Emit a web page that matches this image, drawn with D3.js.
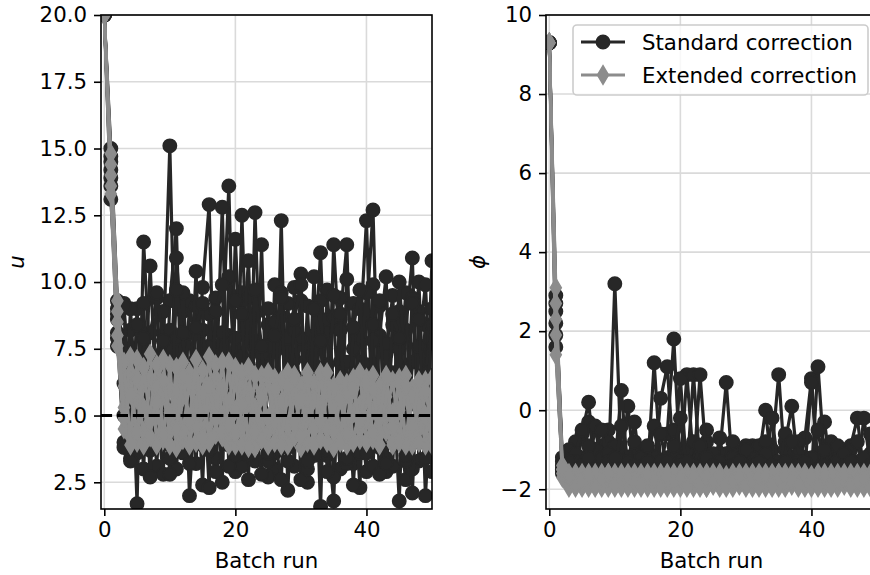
<!DOCTYPE html>
<html>
<head>
<meta charset="utf-8">
<script src="https://cdn.jsdelivr.net/npm/d3@7"></script>
<style>
  body { margin: 0; background: #fff; }
  text { font-family: "DejaVu Sans", sans-serif; }
</style>
</head>
<body>
<div id="chart"></div>
<script>
// ---- data (one row per run, index = batch run 0..50) ----
const uStandard = [
  [20, 15.0, 9.3, 4.0, 8.2, 1.7, 11.5, 6.8, 3.1, 7.4,
   15.1, 4.6, 8.9, 2.0, 6.3, 9.8, 12.9, 3.4, 7.7, 13.6,
   4.1, 9.6, 2.6, 12.6, 5.2, 8.4, 3.0, 12.3, 2.2, 7.1,
   9.3, 3.6, 6.9, 11.1, 4.4, 1.8, 8.6, 11.4, 3.2, 7.9,
   12.3, 4.8, 9.1, 2.9, 6.6, 1.8, 8.2, 10.9, 3.3, 7.6,
   5.4],
  [20, 14.2, 8.1, 6.2, 3.4, 9.0, 4.3, 10.6, 5.1, 2.8,
   9.3, 12.0, 3.6, 9.3, 7.1, 2.4, 8.8, 5.6, 12.8, 3.9,
   11.6, 6.0, 8.3, 3.3, 11.4, 2.7, 9.9, 5.5, 7.4, 3.1,
   10.3, 2.5, 8.0, 1.6, 9.7, 5.9, 3.0, 10.1, 6.4, 2.3,
   8.7, 12.7, 3.8, 7.3, 9.5, 4.5, 2.6, 7.0, 10.0, 4.0,
   10.8],
  [20, 13.6, 7.6, 9.2, 5.3, 7.0, 3.0, 8.1, 9.4, 4.2,
   6.1, 10.9, 7.6, 4.1, 9.1, 6.8, 2.3, 9.4, 4.6, 8.0,
   2.9, 12.5, 4.7, 7.8, 5.9, 9.0, 3.6, 8.7, 4.2, 9.8,
   2.6, 7.7, 4.9, 8.4, 3.5, 11.4, 7.0, 4.2, 9.2, 5.1,
   2.9, 9.9, 6.0, 3.4, 8.4, 6.2, 9.6, 3.0, 8.9, 2.0,
   6.3],
  [20, 13.1, 8.8, 5.0, 6.7, 3.6, 8.0, 2.7, 7.2, 8.9,
   3.9, 5.2, 9.6, 5.8, 3.2, 8.2, 4.9, 7.3, 2.5, 10.2,
   6.6, 3.8, 9.4, 4.9, 2.8, 7.6, 8.5, 3.9, 9.2, 5.0,
   4.1, 9.1, 3.5, 6.2, 8.6, 2.7, 9.4, 5.4, 3.6, 9.0,
   6.9, 3.1, 8.0, 10.2, 3.1, 8.9, 4.6, 9.4, 5.3, 8.4,
   2.9],
  [20, 14.7, 9.0, 7.3, 4.4, 5.9, 9.2, 3.7, 6.1, 5.5,
   8.2, 3.0, 6.4, 8.1, 4.4, 5.3, 6.7, 2.9, 6.9, 4.7,
   7.9, 3.1, 6.9, 8.8, 4.0, 3.3, 6.2, 9.6, 3.3, 6.5,
   7.9, 4.4, 10.2, 4.3, 6.9, 8.7, 4.4, 7.0, 2.4, 6.4,
   9.6, 5.5, 4.6, 7.7, 4.3, 10.0, 6.7, 2.1, 7.6, 9.9,
   4.7],
  [20, 13.9, 7.9, 3.8, 9.0, 4.8, 6.5, 5.0, 4.0, 6.6,
   2.8, 7.9, 4.4, 5.3, 10.4, 3.9, 7.6, 4.2, 8.1, 5.9,
   3.5, 7.2, 10.8, 3.9, 7.3, 6.1, 4.2, 2.6, 7.9, 8.2,
   5.5, 3.0, 6.5, 9.3, 2.9, 5.2, 8.2, 3.2, 7.5, 3.6,
   4.5, 7.8, 2.8, 6.0, 4.9, 7.5, 3.3, 5.8, 4.0, 6.6,
   8.4],
  [20, 14.5, 8.6, 9.1, 3.3, 8.4, 7.9, 3.9, 9.6, 7.8,
   3.4, 9.7, 8.1, 3.2, 8.3, 9.2, 3.7, 8.9, 9.9, 3.1,
   9.3, 8.8, 3.5, 9.7, 7.6, 3.6, 8.0, 9.4, 3.8, 8.6,
   9.9, 3.3, 9.0, 7.8, 3.7, 9.5, 8.8, 3.4, 8.3, 9.7,
   3.6, 8.4, 9.3, 3.2, 8.8, 7.9, 3.5, 9.2, 8.6, 3.4,
   9.0]
];

const uExtended = [
  [20, 14.8, 9.3, 6.1, 4.2, 7.1, 3.9, 6.4, 5.0, 4.1,
   6.9, 3.8, 5.7, 6.6, 4.0, 5.2, 7.2, 4.3, 6.0, 3.9,
   6.4, 4.6, 5.9, 3.8, 6.5, 4.4, 5.3, 6.3, 3.9, 5.8,
   4.5, 6.6, 4.0, 5.4, 6.2, 3.8, 5.9, 4.7, 6.4, 4.1,
   5.6, 6.5, 3.9, 5.0, 6.3, 4.3, 5.8, 3.9, 6.1, 4.6,
   5.5],
  [20, 13.3, 7.6, 4.5, 6.6, 4.0, 6.2, 7.3, 3.9, 5.8,
   4.4, 6.8, 4.1, 4.6, 6.3, 3.9, 5.5, 6.4, 4.2, 7.0,
   3.9, 6.2, 4.1, 6.5, 4.8, 3.9, 6.4, 4.2, 5.7, 6.5,
   3.8, 4.9, 6.2, 4.1, 5.9, 4.7, 6.3, 3.9, 5.1, 6.6,
   4.0, 5.2, 6.1, 4.4, 3.9, 6.4, 4.1, 6.0, 4.5, 6.3,
   3.9],
  [20, 14.0, 8.5, 5.3, 7.2, 5.6, 4.4, 5.0, 6.9, 4.3,
   6.0, 5.2, 7.0, 3.9, 5.4, 6.7, 4.0, 5.6, 4.4, 5.5,
   6.8, 3.9, 5.5, 4.6, 5.9, 6.4, 4.0, 5.0, 6.6, 4.2,
   6.1, 4.0, 5.6, 6.4, 4.0, 6.1, 4.3, 6.2, 4.0, 5.4,
   6.4, 4.1, 5.6, 6.3, 4.0, 5.2, 6.5, 4.3, 5.4, 3.9,
   6.4],
  [20, 13.6, 8.0, 7.0, 3.9, 6.4, 5.3, 4.2, 6.1, 7.1,
   3.9, 5.9, 4.4, 6.2, 4.6, 5.8, 4.1, 6.9, 5.0, 4.3,
   5.2, 6.6, 3.8, 5.3, 4.1, 6.6, 4.7, 5.5, 4.6, 6.4,
   4.2, 5.6, 3.9, 6.6, 4.5, 5.4, 4.0, 5.8, 6.3, 4.5,
   4.8, 6.0, 4.3, 5.7, 5.1, 6.2, 3.9, 5.7, 4.0, 5.9,
   4.8],
  [20, 14.4, 8.9, 4.9, 5.8, 4.4, 6.8, 4.8, 5.5, 6.3,
   5.1, 4.5, 6.5, 4.8, 7.1, 4.2, 6.1, 4.9, 7.0, 4.6,
   4.3, 5.4, 6.8, 4.4, 5.7, 4.9, 6.0, 3.9, 6.1, 4.7,
   5.6, 6.4, 4.5, 4.8, 6.6, 4.4, 5.6, 4.3, 6.0, 4.8,
   6.2, 4.3, 4.9, 6.5, 4.6, 4.0, 6.1, 4.6, 6.3, 5.0,
   4.2]
];

const phiStandard = [
  [9.3, 2.9, -1.5, -1.2, -1.6, -0.6, 0.2, -1.4, -0.9, -1.6,
   3.2, -1.3, 0.1, -1.6, -1.0, -1.5, 1.2, -1.4, -0.6, 1.8,
   -1.5, 0.9, -1.3, -1.6, -0.8, -1.5, -1.1, 0.7, -1.6, -1.2,
   -1.5, -0.9, -1.6, -1.3, -1.0, 0.9, -1.5, -1.2, -1.6, -0.7,
   0.8, -1.4, -0.3, -1.6, -1.1, -1.5, -0.9, -0.2, -1.6, -1.3,
   -1.0],
  [9.3, 2.5, -1.3, -1.6, -0.8, -1.5, -0.3, -1.2, -1.6, -0.5,
   -1.4, 0.5, -1.6, -1.1, -1.5, -1.0, -1.6, 0.3, 1.1, -1.3,
   0.8, -1.6, 0.9, -1.4, -0.5, -1.6, -1.4, -1.1, -1.3, -1.6,
   -0.9, -1.5, -1.2, 0.0, -1.6, -1.4, -0.8, 0.1, -1.5, -1.2,
   -1.6, 1.1, -1.3, -0.9, -1.6, -1.2, -1.5, -1.6, -0.2, -1.4,
   -1.2],
  [9.3, 1.6, -1.6, -1.0, -1.5, -1.2, -1.6, -0.4, -1.5, -0.8,
   -1.6, -1.1, -1.4, -0.3, -1.6, -1.2, -0.4, -1.6, -1.2, -0.5,
   -1.4, -1.0, -1.6, 0.9, -1.3, -1.5, -0.7, -1.6, -1.0, -1.5,
   -1.3, -1.6, -0.9, -1.4, -0.2, -1.5, -1.0, -1.6, -0.8, -1.5,
   0.7, -1.6, -1.2, -0.8, -1.5, -1.6, -1.0, -1.4, -1.6, -0.6,
   -1.5],
  [9.3, 2.2, -1.4, -1.5, -1.1, -0.5, -1.5, -1.0, -0.5, -1.4,
   -0.9, -1.6, -1.2, -0.8, -1.3, -1.6, -1.2, -0.6, -1.5, -1.1,
   -0.2, -1.5, -0.8, -1.2, -1.6, -1.1, -1.6, -1.4, -0.8, -1.4,
   -1.6, -1.2, -1.5, -0.8, -1.3, -1.6, -0.6, -1.4, -1.1, -1.6,
   -1.3, -0.5, -1.6, -1.4, -0.9, -1.6, -1.3, -0.8, -1.5, -1.1,
   -1.6],
  [9.3, 1.9, -1.5, -1.4, -1.3, -1.6, -0.9, -1.6, -1.2, -1.1,
   -1.5, -0.4, -1.3, -1.6, -1.2, -0.9, -1.5, -1.3, -1.6, -0.9,
   -1.3, -1.6, -1.4, -0.9, -1.5, -1.6, -1.3, -1.5, -1.2, -1.6,
   -1.0, -1.4, -1.6, -1.1, -1.6, -1.3, -1.5, -0.8, -1.3, -1.5,
   -1.2, -1.6, -1.0, -1.5, -1.3, -1.1, -1.6, -1.3, -1.2, -1.6,
   -1.4],
  [9.3, 2.7, -1.2, -1.3, -1.6, -1.4, -1.2, -1.5, -1.6, -1.3,
   -1.2, -1.5, -1.6, -1.4, -1.5, -1.3, -1.5, -1.6, -1.3, -1.6,
   -1.4, -1.3, -1.5, -1.6, -1.2, -1.4, -1.5, -1.6, -1.4, -1.3,
   -1.5, -1.6, -1.3, -1.5, -1.4, -1.6, -1.3, -1.5, -1.4, -1.3,
   -1.6, -1.5, -1.4, -1.5, -1.6, -1.4, -1.3, -1.5, -1.6, -1.4,
   -1.5]
];

const phiExtended = [
  [9.3, 3.1, -1.5, -1.9, -1.6, -1.95, -1.7, -1.9, -1.6, -1.85,
   -1.95, -1.65, -1.9, -1.6, -1.95, -1.75, -1.9, -1.6, -1.95, -1.7,
   -1.9, -1.6, -1.95, -1.8, -1.6, -1.9, -1.95, -1.65, -1.9, -1.6,
   -1.95, -1.7, -1.9, -1.6, -1.95, -1.8, -1.6, -1.9, -1.95, -1.65,
   -1.9, -1.6, -1.95, -1.75, -1.9, -1.6, -1.95, -1.7, -1.9, -1.6,
   -1.95],
  [9.3, 2.3, -1.7, -1.6, -1.95, -1.6, -1.9, -1.65, -1.95, -1.6,
   -1.7, -1.95, -1.6, -1.9, -1.7, -1.95, -1.6, -1.9, -1.7, -1.95,
   -1.6, -1.9, -1.7, -1.6, -1.95, -1.65, -1.7, -1.95, -1.6, -1.9,
   -1.7, -1.95, -1.6, -1.9, -1.7, -1.6, -1.95, -1.7, -1.6, -1.95,
   -1.65, -1.9, -1.7, -1.95, -1.6, -1.9, -1.7, -1.95, -1.6, -1.9,
   -1.7],
  [9.3, 1.4, -1.4, -1.75, -1.8, -1.7, -1.6, -1.8, -1.75, -1.95,
   -1.8, -1.75, -1.8, -1.95, -1.6, -1.85, -1.75, -1.8, -1.6, -1.85,
   -1.75, -1.8, -1.6, -1.95, -1.75, -1.8, -1.6, -1.85, -1.75, -1.8,
   -1.85, -1.6, -1.75, -1.95, -1.8, -1.6, -1.75, -1.85, -1.8, -1.75,
   -1.85, -1.8, -1.6, -1.85, -1.75, -1.8, -1.6, -1.85, -1.75, -1.8,
   -1.85],
  [9.3, 1.9, -1.6, -1.95, -1.7, -1.85, -1.95, -1.6, -1.85, -1.7,
   -1.6, -1.85, -1.95, -1.7, -1.85, -1.6, -1.95, -1.7, -1.85, -1.6,
   -1.95, -1.7, -1.85, -1.7, -1.95, -1.6, -1.85, -1.7, -1.95, -1.7,
   -1.6, -1.85, -1.95, -1.7, -1.6, -1.95, -1.85, -1.6, -1.7, -1.85,
   -1.95, -1.7, -1.85, -1.6, -1.95, -1.7, -1.85, -1.6, -1.95, -1.7,
   -1.6],
  [9.3, 2.7, -1.5, -1.65, -1.9, -1.8, -1.65, -1.95, -1.7, -1.6,
   -1.9, -1.6, -1.7, -1.8, -1.9, -1.65, -1.8, -1.95, -1.65, -1.8,
   -1.7, -1.95, -1.65, -1.9, -1.7, -1.8, -1.65, -1.9, -1.8, -1.65,
   -1.9, -1.8, -1.7, -1.65, -1.9, -1.7, -1.65, -1.8, -1.9, -1.6,
   -1.7, -1.95, -1.65, -1.9, -1.8, -1.65, -1.9, -1.8, -1.7, -1.95,
   -1.65]
];

const uTarget = 5.0;
const xTicks = [0, 20, 40];
const uTicks = [2.5, 5.0, 7.5, 10.0, 12.5, 15.0, 17.5, 20.0];
const phiTicks = [-2, 0, 2, 4, 6, 8, 10];
const legendLabels = ["Standard correction", "Extended correction"];

// ---- layout ----
const width = 870, height = 575;
const TOP = 15, BOTTOM = 509, PW = 331;
const FONT = 21.3;
const DARK = "#272727", GREY = "#8c8c8c";

const svg = d3.select("#chart").append("svg")
  .attr("width", width)
  .attr("height", height);

const defs = svg.append("defs");

function diamondPath(h, w) {
  return `M0,${-h / 2}L${w / 2},0L0,${h / 2}L${-w / 2},0Z`;
}

function drawPanel(opts) {
  const x = d3.scaleLinear().domain([-0.5, 50]).range([opts.left, opts.left + PW]);
  const y = d3.scaleLinear().domain(opts.yDomain).range([BOTTOM, TOP]);

  defs.append("clipPath").attr("id", opts.id)
    .append("rect")
    .attr("x", opts.left).attr("y", TOP)
    .attr("width", PW).attr("height", BOTTOM - TOP);

  const g = svg.append("g");

  // grid
  const grid = g.append("g").attr("stroke", "#dadada").attr("stroke-width", 1.6);
  grid.selectAll(".gx").data(xTicks).enter().append("line")
    .attr("x1", d => x(d)).attr("x2", d => x(d))
    .attr("y1", TOP).attr("y2", BOTTOM);
  grid.selectAll(".gy").data(opts.yTicks).enter().append("line")
    .attr("x1", opts.left).attr("x2", opts.left + PW)
    .attr("y1", d => y(d)).attr("y2", d => y(d));

  const plot = g.append("g").attr("clip-path", `url(#${opts.id})`);
  const line = d3.line().x((d, i) => x(i)).y(d => y(d));

  // standard correction runs
  opts.standard.forEach(run => {
    const r = plot.append("g");
    r.append("path").datum(run)
      .attr("d", line).attr("fill", "none")
      .attr("stroke", DARK).attr("stroke-width", 3.2)
      .attr("stroke-linejoin", "round");
    r.selectAll("circle").data(run).enter().append("circle")
      .attr("cx", (d, i) => x(i)).attr("cy", d => y(d))
      .attr("r", 6.7)
      .attr("fill", DARK).attr("stroke", DARK).attr("stroke-width", 1.5);
  });

  // extended correction runs
  opts.extended.forEach(run => {
    const r = plot.append("g");
    r.append("path").datum(run)
      .attr("d", line).attr("fill", "none")
      .attr("stroke", GREY).attr("stroke-width", 3.2)
      .attr("stroke-linejoin", "round");
    r.selectAll(".dm").data(run).enter().append("path")
      .attr("d", diamondPath(18.5, 11))
      .attr("transform", (d, i) => `translate(${x(i)},${y(d)})`)
      .attr("fill", GREY).attr("stroke", GREY).attr("stroke-width", 1.5);
  });

  if (opts.target !== undefined) {
    plot.append("line")
      .attr("x1", opts.left).attr("x2", opts.left + PW)
      .attr("y1", y(opts.target)).attr("y2", y(opts.target))
      .attr("stroke", "#000").attr("stroke-width", 3)
      .attr("stroke-dasharray", "11.1,4.8");
  }

  // axes
  const yAxis = g.append("g")
    .attr("transform", `translate(${opts.left},0)`)
    .call(d3.axisLeft(y).tickValues(opts.yTicks).tickSize(7).tickPadding(7)
      .tickFormat(opts.yFormat));
  const xAxis = g.append("g")
    .attr("transform", `translate(0,${BOTTOM})`)
    .call(d3.axisBottom(x).tickValues(xTicks).tickSize(7).tickPadding(6)
      .tickFormat(d3.format("d")));
  [xAxis, yAxis].forEach(a => {
    a.select(".domain").remove();
    a.selectAll(".tick line").attr("stroke", "#000").attr("stroke-width", 1.6);
    a.selectAll(".tick text")
      .attr("fill", "#000")
      .style("font-family", "'DejaVu Sans', sans-serif")
      .style("font-size", FONT + "px");
  });

  // spines
  g.append("rect")
    .attr("x", opts.left).attr("y", TOP)
    .attr("width", PW).attr("height", BOTTOM - TOP)
    .attr("fill", "none").attr("stroke", "#000").attr("stroke-width", 1.6);

  // labels
  g.append("text")
    .attr("x", opts.left + PW / 2).attr("y", 568)
    .attr("text-anchor", "middle")
    .style("font-size", FONT + "px")
    .text("Batch run");

  g.append("text")
    .attr("transform", `translate(${opts.labelX},262) rotate(-90)`)
    .attr("text-anchor", "middle")
    .style("font-size", FONT + "px")
    .style("font-style", "italic")
    .text(opts.label);

  return { x, y };
}

drawPanel({
  id: "clip-u", left: 101, yDomain: [1.5, 20],
  yTicks: uTicks, yFormat: d3.format(".1f"),
  standard: uStandard, extended: uExtended, target: uTarget,
  label: "u", labelX: 24
});

drawPanel({
  id: "clip-phi", left: 546, yDomain: [-2.5, 10],
  yTicks: phiTicks, yFormat: d3.format("d"),
  standard: phiStandard, extended: phiExtended,
  label: "\u03d5", labelX: 485
});

// legend
const legend = svg.append("g");
legend.append("rect")
  .attr("x", 573).attr("y", 25).attr("width", 295).attr("height", 70)
  .attr("rx", 4)
  .attr("fill", "#fff").attr("fill-opacity", 0.8)
  .attr("stroke", "#cccccc").attr("stroke-width", 1.6);

const rows = [
  { label: legendLabels[0], color: DARK, y: 42, marker: "circle" },
  { label: legendLabels[1], color: GREY, y: 75, marker: "diamond" }
];
rows.forEach(r => {
  legend.append("line")
    .attr("x1", 581).attr("x2", 625).attr("y1", r.y).attr("y2", r.y)
    .attr("stroke", r.color).attr("stroke-width", 3.2);
  if (r.marker === "circle") {
    legend.append("circle").attr("cx", 603).attr("cy", r.y).attr("r", 6.7)
      .attr("fill", r.color).attr("stroke", r.color).attr("stroke-width", 1.5);
  } else {
    legend.append("path").attr("d", diamondPath(18.5, 11))
      .attr("transform", `translate(603,${r.y})`)
      .attr("fill", r.color).attr("stroke", r.color).attr("stroke-width", 1.5);
  }
  legend.append("text")
    .attr("x", 642).attr("y", r.y + 7.5)
    .style("font-size", FONT + "px")
    .text(r.label);
});
</script>
</body>
</html>
